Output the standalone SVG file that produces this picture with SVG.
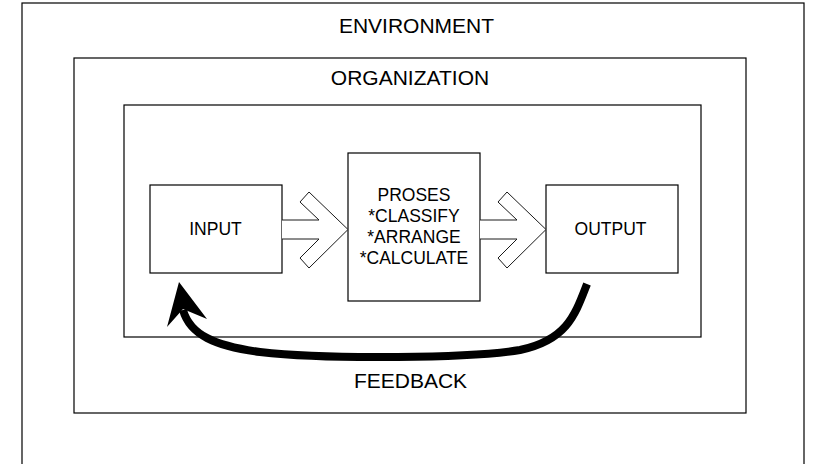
<svg xmlns="http://www.w3.org/2000/svg" width="813" height="464" viewBox="0 0 813 464">
  <style>
    .box { fill: #ffffff; stroke: #000000; stroke-width: 1.2; }
    .label { font-family: "Liberation Sans", Arial, sans-serif; fill: #000000; text-anchor: middle; }
    .big { font-size: 21px; }
    .small { font-size: 17.5px; }
    .block { fill: #ffffff; stroke: #1a1a1a; stroke-width: 1; stroke-linejoin: miter; }
    .feedback { fill: none; stroke: #000000; stroke-width: 8; stroke-linecap: butt; }
  </style>
  <rect width="813" height="464" fill="#ffffff"/>

  <g id="environment">
    <rect class="box" x="22" y="3" width="782" height="470"/>
    <text class="label big" x="416.5" y="33">ENVIRONMENT</text>
  </g>

  <g id="organization">
    <rect class="box" x="74" y="58" width="672" height="355"/>
    <text class="label big" x="410" y="85">ORGANIZATION</text>
  </g>

  <g id="system">
    <rect class="box" x="124" y="105" width="577" height="232"/>
  </g>

  <g id="input">
    <rect class="box" x="150" y="185" width="132" height="88"/>
    <text class="label small" x="215.5" y="235">INPUT</text>
  </g>

  <g id="process">
    <rect class="box" x="348" y="153" width="132" height="148"/>
    <text class="label small" x="414" y="201">PROSES</text>
    <text class="label small" x="414" y="222">*CLASSIFY</text>
    <text class="label small" x="414" y="243">*ARRANGE</text>
    <text class="label small" x="414" y="264">*CALCULATE</text>
  </g>

  <g id="output">
    <rect class="box" x="546" y="185" width="132" height="88"/>
    <text class="label small" x="610.5" y="235">OUTPUT</text>
  </g>

  <g id="connectors">
    <!-- block arrows between the stages -->
    <path class="block" d="M282,220 L319,220 L300,202 L309,192 L348,229.5 L309,268 L300,258 L319,239 L282,239"/>
    <path class="block" d="M480,220 L517,220 L498,202 L507,192 L546,229.5 L507,268 L498,258 L517,239 L480,239"/>
    <!-- feedback loop from output back to input -->
    <path class="feedback" d="M587,284 C575,315 567,340 520,350 C470,358 330,360 260,352 C215,346 190,335 183,310"/>
    <polygon fill="#000000" points="179,282 207,319 183,309 167,327"/>
  </g>

  <g id="feedback-label">
    <text class="label big" x="410.5" y="388">FEEDBACK</text>
  </g>
</svg>
